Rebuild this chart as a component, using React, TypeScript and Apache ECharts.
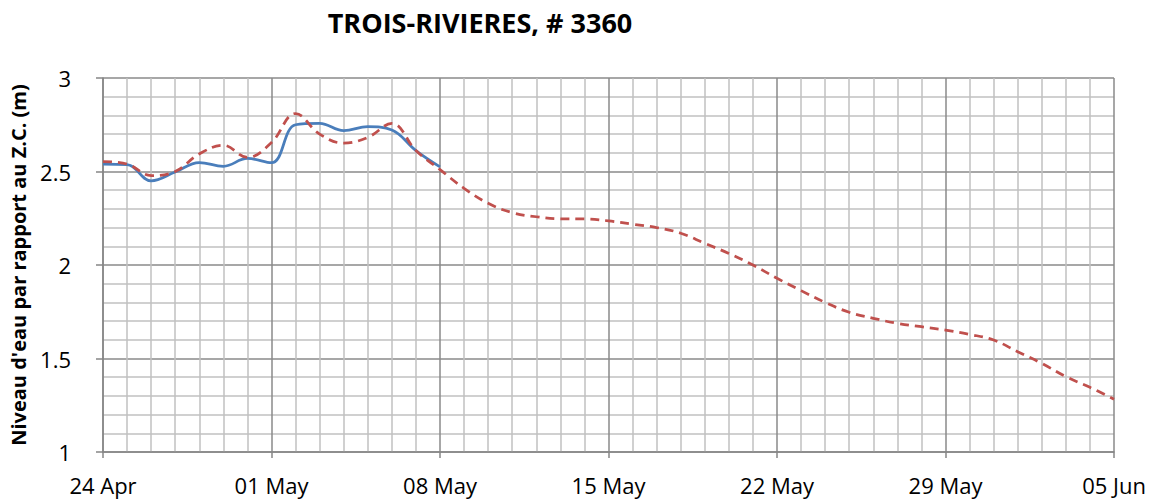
import React, { useEffect, useRef } from "react";
import * as echarts from "echarts";

const titleText = "TROIS-RIVIERES, # 3360";
const yAxisName = "Niveau d'eau par rapport au Z.C. (m)";
const xTickLabels = ["24 Apr", "01 May", "08 May", "15 May", "22 May", "29 May", "05 Jun"];

// day offsets from 24 Apr
const observedDays = [0, 1, 2, 3, 4, 5, 6, 7, 8, 9, 10, 11, 12, 13, 14];
const observedValues = [2.54, 2.537, 2.45, 2.497, 2.548, 2.528, 2.57, 2.547, 2.75, 2.757, 2.718, 2.74, 2.722, 2.612, 2.525];

const forecastDays = [
  0, 1, 2, 3, 4, 5, 6, 7, 8, 9, 10, 11, 12, 13, 14, 15, 16, 17, 18, 19, 20, 21,
  22, 23, 24, 25, 26, 27, 28, 29, 30, 31, 32, 33, 34, 35, 36, 37, 38, 39, 40, 41, 42,
];
const forecastValues = [
  2.553, 2.54, 2.478, 2.5, 2.594, 2.64, 2.575, 2.655, 2.81, 2.7, 2.652, 2.682, 2.757,
  2.612, 2.51, 2.41, 2.33, 2.28, 2.258, 2.247, 2.246, 2.236, 2.218, 2.2, 2.17, 2.116,
  2.062, 2.0, 1.929, 1.863, 1.8, 1.747, 1.715, 1.688, 1.67, 1.652, 1.629, 1.599, 1.536,
  1.474, 1.403, 1.346, 1.282,
];

export default function App() {
  const ref = useRef<HTMLDivElement>(null);
  useEffect(() => {
    document.body.style.margin = "0";
    const chart = echarts.init(ref.current!, null, { renderer: "svg" });
    const font = "'Open Sans', sans-serif";
    chart.setOption({
      animation: false,
      backgroundColor: "#ffffff",
      title: {
        text: titleText,
        left: 475,
        top: 4,
        textAlign: "center",
        textStyle: { fontFamily: font, fontWeight: "bold", fontSize: 27, color: "#000" },
      },
      grid: { left: 100, right: 36, top: 78, bottom: 48 },
      xAxis: {
        type: "value",
        min: 0,
        max: 42,
        interval: 7,
        axisLine: { show: true, lineStyle: { color: "#868686", width: 1.5 } },
        axisTick: { show: true, length: 6, lineStyle: { color: "#868686", width: 1.5 } },
        axisLabel: {
          fontFamily: font,
          fontSize: 22,
          color: "#000",
          margin: 22,
          formatter: (v: number) => xTickLabels[Math.round(v / 7)] ?? "",
        },
        splitLine: { show: true, lineStyle: { color: "#8a8a8a", width: 1.5 } },
        minorTick: { show: false, splitNumber: 7 },
        minorSplitLine: { show: true, lineStyle: { color: "#c0c0c0", width: 1.5 } },
      },
      yAxis: {
        type: "value",
        min: 1,
        max: 3,
        interval: 0.5,
        name: yAxisName,
        nameLocation: "middle",
        nameGap: 75,
        nameTextStyle: { fontFamily: font, fontWeight: "bold", fontSize: 20, color: "#000" },
        axisLine: { show: true, lineStyle: { color: "#868686", width: 1.5 } },
        axisTick: { show: true, length: 7, lineStyle: { color: "#868686", width: 1.5 } },
        axisLabel: { fontFamily: font, fontSize: 22, color: "#000", margin: 32 },
        splitLine: { show: true, lineStyle: { color: "#8a8a8a", width: 1.5 } },
        minorTick: { show: false, splitNumber: 5 },
        minorSplitLine: { show: true, lineStyle: { color: "#c0c0c0", width: 1.5 } },
      },
      series: [
        {
          name: "Observé",
          type: "line",
          smooth: 0.4,
          symbol: "none",
          data: observedDays.map((d, i) => [d, observedValues[i]]),
          lineStyle: { color: "#4a7ebb", width: 2.75 },
          z: 3,
        },
        {
          name: "Prévision",
          type: "line",
          smooth: 0.4,
          symbol: "none",
          data: forecastDays.map((d, i) => [d, forecastValues[i]]),
          lineStyle: { color: "#c0504d", width: 2.75, type: [9, 6] },
          z: 4,
        },
      ],
    });
    return () => chart.dispose();
  }, []);
  return <div ref={ref} style={{ width: 1150, height: 500 }} />;
}
